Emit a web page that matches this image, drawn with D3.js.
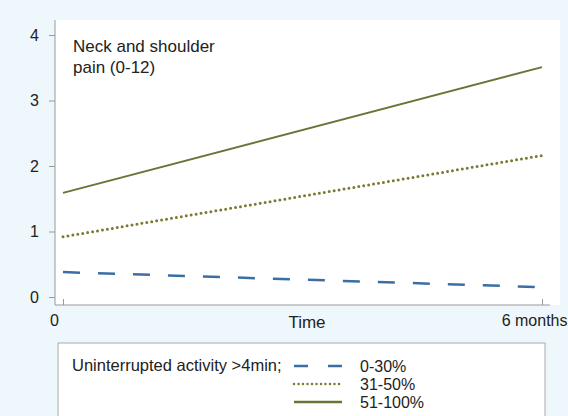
<!DOCTYPE html>
<meta charset="utf-8">
<script src="https://d3js.org/d3.v7.min.js"></script>
<style>
  body { margin: 0; background: #eef8fc; }
  text { font-family: "Liberation Sans", Arial, sans-serif; fill: #222; }
</style>
<div id="chart"></div>
<script>

// data
var timePoints = [0, 6];
var groups = ["0-30%", "31-50%", "51-100%"];
var pain030 = [0.38, 0.15];
var pain3150 = [0.92, 2.16];
var pain51100 = [1.59, 3.51];
var yTicks = [0, 1, 2, 3, 4];
var xTickLabels = ["0", "6 months"];

var W = 568, H = 416;

var svg = d3.select("#chart")
  .append("svg")
    .attr("width", W)
    .attr("height", H);

// white plot region
svg.append("rect")
  .attr("x", 55).attr("y", 20)
  .attr("width", 505).attr("height", 285)
  .attr("fill", "#fff");

var x = d3.scaleLinear().domain([0, 6]).range([63, 542]);
var y = d3.scaleLinear().domain([0, 4]).range([297, 35]);

// Y axis
var yAxis = svg.append("g")
  .attr("transform", "translate(55,0)")
  .call(d3.axisLeft(y).tickValues(yTicks).tickFormat(d3.format("d")).tickSize(6).tickPadding(10));
yAxis.select(".domain").attr("stroke", "#999").attr("d", "M0,20V305");
yAxis.selectAll(".tick line").attr("stroke", "#999");
yAxis.selectAll("text").style("font-size", "16px").attr("fill", "#222");

// X axis
var xAxis = svg.append("g")
  .attr("transform", "translate(0,305)")
  .call(d3.axisBottom(x).tickValues(timePoints)
    .tickFormat(function(d, i) { return xTickLabels[i]; })
    .tickSize(6).tickPadding(4));
xAxis.select(".domain").attr("stroke", "#999").attr("d", "M55,0H550");
xAxis.selectAll(".tick line").attr("stroke", "#999").attr("y2", -6);
xAxis.selectAll("text").style("font-size", "16px").attr("fill", "#222");
xAxis.selectAll(".tick").filter(function(d) { return d === 0; }).select("text").attr("dx", -9);
xAxis.selectAll(".tick").filter(function(d) { return d === 6; }).select("text")
  .attr("text-anchor", "end").attr("dx", 25);

svg.append("text")
  .attr("x", 307).attr("y", 328)
  .attr("text-anchor", "middle")
  .style("font-size", "17px")
  .text("Time");

// title inside plot
svg.append("text").attr("x", 73).attr("y", 52).style("font-size", "17px").text("Neck and shoulder");
svg.append("text").attr("x", 73).attr("y", 73).style("font-size", "17px").text("pain (0-12)");

var styles = [
  { vals: pain030, color: "#3b6fa3", width: 2.5, dash: "17,18", cap: "butt" },
  { vals: pain3150, color: "#7c7a32", width: 3, dash: "0,5", cap: "round" },
  { vals: pain51100, color: "#6b7437", width: 2, dash: null, cap: "butt" }
];

var line = d3.line()
  .x(function(d, i) { return x(timePoints[i]); })
  .y(function(d) { return y(d); });

styles.forEach(function(s) {
  svg.append("path")
    .datum(s.vals)
    .attr("fill", "none")
    .attr("stroke", s.color)
    .attr("stroke-width", s.width)
    .attr("stroke-linecap", s.cap)
    .attr("stroke-dasharray", s.dash)
    .attr("d", line);
});

// legend
svg.append("rect")
  .attr("x", 58).attr("y", 343)
  .attr("width", 487).attr("height", 80)
  .attr("fill", "#fff")
  .attr("stroke", "#aaa");

svg.append("text").attr("x", 72).attr("y", 371).style("font-size", "16.5px")
  .text("Uninterrupted activity >4min;");

var legY = [366, 384, 402];
styles.forEach(function(s, i) {
  svg.append("line")
    .attr("x1", 294).attr("x2", 342)
    .attr("y1", legY[i]).attr("y2", legY[i])
    .attr("stroke", s.color)
    .attr("stroke-width", 2.5)
    .attr("stroke-linecap", s.cap)
    .attr("stroke-dasharray", i === 0 ? "14,20" : (i === 1 ? "0,4.5" : null));
  svg.append("text")
    .attr("x", 360).attr("y", legY[i] + 6)
    .style("font-size", "16px")
    .text(groups[i]);
});

</script>
